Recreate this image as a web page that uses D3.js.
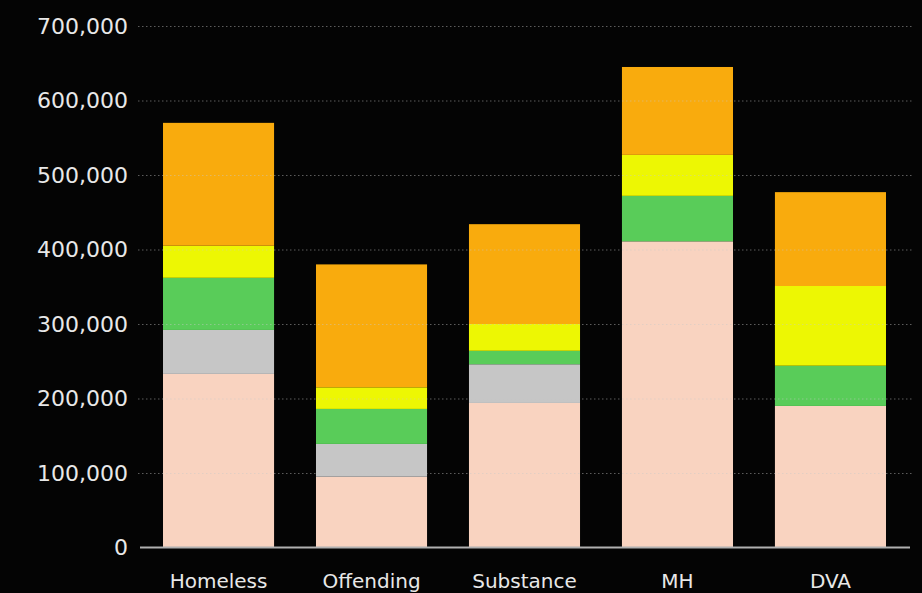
<!DOCTYPE html>
<html>
<head>
<meta charset="utf-8">
<script src="https://cdn.jsdelivr.net/npm/d3@7"></script>
<style>
  html, body { margin: 0; padding: 0; background: #040404; }
  svg { display: block; }
</style>
</head>
<body>
<svg id="chart" width="922" height="593"></svg>
<script>
const categories = ["Homeless", "Offending", "Substance", "MH", "DVA"];
const seriesNames = ["base", "grey", "green", "yellow", "orange"];
const seriesColors = ["#F9D3C0", "#C6C6C6", "#59CC59", "#EDF703", "#F9AB0D"];
const baseValues   = [233000,  95000, 194000, 411000, 190000];
const greyValues   = [ 59000,  44000,  52000,      0,      0];
const greenValues  = [ 70000,  47000,  18000,  61000,  54000];
const yellowValues = [ 43000,  29000,  36000,  55000, 107000];
const orangeValues = [165000, 165000, 134000, 118000, 126000];
const yTicks = [0, 100000, 200000, 300000, 400000, 500000, 600000, 700000];

const table = categories.map((c, i) => ({
  cat: c,
  base: baseValues[i], grey: greyValues[i], green: greenValues[i],
  yellow: yellowValues[i], orange: orangeValues[i]
}));

const svg = d3.select("#chart");
const mLeft = 138, mRight = 913, mTop = 26, mBottom = 547.5;

const x = d3.scaleBand().domain(categories).range([mLeft - 1, mRight - 1])
  .paddingInner(0.274).paddingOuter(0.17);
const y = d3.scaleLinear().domain([0, 700000]).range([mBottom, mTop]);
const color = d3.scaleOrdinal().domain(seriesNames).range(seriesColors);

const stacked = d3.stack().keys(seriesNames)(table);

// bars
svg.append("g").selectAll("g").data(stacked).join("g")
  .attr("fill", d => color(d.key))
  .selectAll("rect").data(d => d).join("rect")
  .attr("x", d => x(d.data.cat))
  .attr("width", x.bandwidth())
  .attr("y", d => y(d[1]))
  .attr("height", d => y(d[0]) - y(d[1]));

// gridlines (over bars)
const grid = svg.append("g")
  .attr("transform", `translate(${mLeft},0)`)
  .call(d3.axisLeft(y).tickValues(yTicks.filter(t => t > 0)).tickSize(-(mRight - mLeft)).tickFormat(""));
grid.select(".domain").remove();
grid.selectAll("line")
  .attr("stroke", "rgba(200,200,200,0.45)")
  .attr("stroke-width", 1)
  .attr("stroke-dasharray", "1.5,2.5");

// y labels
const yAxis = svg.append("g")
  .attr("transform", `translate(${mLeft},0)`)
  .call(d3.axisLeft(y).tickValues(yTicks).tickSize(0).tickPadding(10).tickFormat(d3.format(",")));
yAxis.select(".domain").remove();
yAxis.selectAll("text")
  .attr("fill", "#e8e8e8")
  .style("font-family", "'DejaVu Sans', sans-serif")
  .style("font-size", "22px");

// x axis
const xAxis = svg.append("g")
  .attr("transform", `translate(0,${mBottom})`)
  .call(d3.axisBottom(x).tickSize(0).tickPadding(26));
xAxis.select(".domain")
  .attr("d", `M${mLeft + 2},0H${mRight - 3}`)
  .attr("stroke", "#b0b0b0")
  .attr("stroke-width", 2);
xAxis.selectAll("text")
  .attr("fill", "#e8e8e8")
  .style("font-family", "'DejaVu Sans', sans-serif")
  .style("font-size", "20px");
</script>
</body>
</html>
